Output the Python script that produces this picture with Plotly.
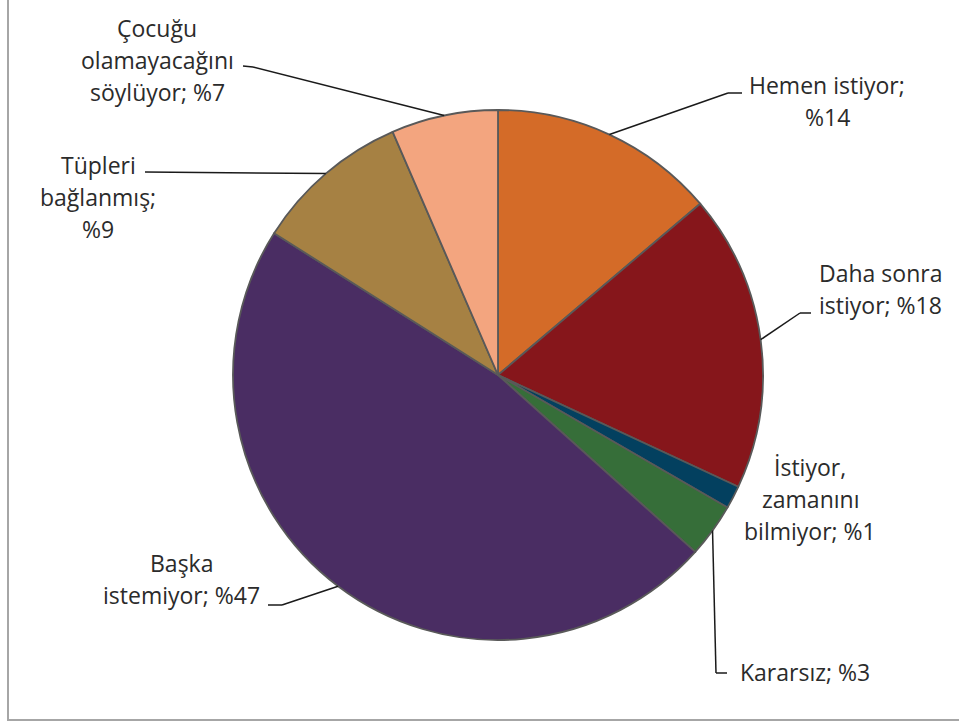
import math
import plotly.graph_objects as go

W, H = 959, 722

# slices, clockwise from 12 o'clock
categories = ["Hemen istiyor", "Daha sonra istiyor", "İstiyor, zamanını bilmiyor",
              "Kararsız", "Başka istemiyor", "Tüpleri bağlanmış",
              "Çocuğu olamayacağını söylüyor"]
values = [13.8, 18.1, 1.4, 3.3, 47.3, 9.5, 6.5]
label_lines = [
    ["Hemen istiyor;", "%14"],
    ["Daha sonra", "istiyor; %18"],
    ["İstiyor,", "zamanını", "bilmiyor; %1"],
    ["Kararsız; %3"],
    ["Başka", "istemiyor; %47"],
    ["Tüpleri", "bağlanmış;", "%9"],
    ["Çocuğu", "olamayacağını", "söylüyor; %7"],
]
colors = ["#D46B28", "#86161B", "#03405F", "#366E39", "#4A2D63", "#A68143", "#F3A57F"]

# layout (pixels): pie centre/radius, label block centre (first line), leader elbows
cx, cy, r = 498, 375, 265
label_pos = [(827, 85), (880, 273), (810, 467), (805, 672), (181, 563), (98, 165), (157, 28)]
elbows = [
    [(728, 93), (742, 93)],
    [(800, 313), (811, 313)],
    None,
    [(716, 673), (727, 673)],
    [(282, 605), (268, 605)],
    [(145, 172)],
    [(253, 67), (243, 66)],
]
line_gap = 32


def px(x, y):
    return x / W, 1 - y / H


fig = go.Figure(go.Pie(
    labels=categories,
    values=values,
    sort=False,
    direction="clockwise",
    rotation=0,
    textinfo="none",
    hoverinfo="label+percent",
    marker=dict(colors=colors, line=dict(color="#595959", width=1.8)),
    domain=dict(x=[(cx - r) / W, (cx + r) / W], y=[1 - (cy + r) / H, 1 - (cy - r) / H]),
    showlegend=False,
))

shapes = [dict(type="rect", xref="paper", yref="paper",
               x0=8 / W, x1=1.05, y0=1 - 720 / H, y1=1.05,
               line=dict(color="#A6A6A6", width=2), fillcolor="rgba(0,0,0,0)")]

total = sum(values)
cum = 0
for i, v in enumerate(values):
    mid = (cum + v / 2) / total * 2 * math.pi
    cum += v
    if elbows[i] is None:
        continue
    pts = [(cx + r * math.sin(mid), cy - r * math.cos(mid))] + elbows[i]
    for (x0, y0), (x1, y1) in zip(pts[:-1], pts[1:]):
        a0, b0 = px(x0, y0)
        a1, b1 = px(x1, y1)
        shapes.append(dict(type="line", xref="paper", yref="paper",
                           x0=a0, y0=b0, x1=a1, y1=b1,
                           line=dict(color="#1A1A1A", width=1.5)))

annotations = []
for lines, (lx, ly) in zip(label_lines, label_pos):
    for k, t in enumerate(lines):
        ax, ay = px(lx, ly + k * line_gap)
        annotations.append(dict(text=t, x=ax, y=ay, xref="paper", yref="paper",
                                xanchor="center", yanchor="middle", showarrow=False,
                                font=dict(family="Open Sans", size=23, color="#2B2B2B")))

fig.update_layout(
    width=W, height=H,
    margin=dict(l=0, r=0, t=0, b=0),
    paper_bgcolor="white",
    plot_bgcolor="white",
    shapes=shapes,
    annotations=annotations,
)

fig.write_html("out.html", config={"displayModeBar": False},
               post_script="document.body.style.margin='0';")
